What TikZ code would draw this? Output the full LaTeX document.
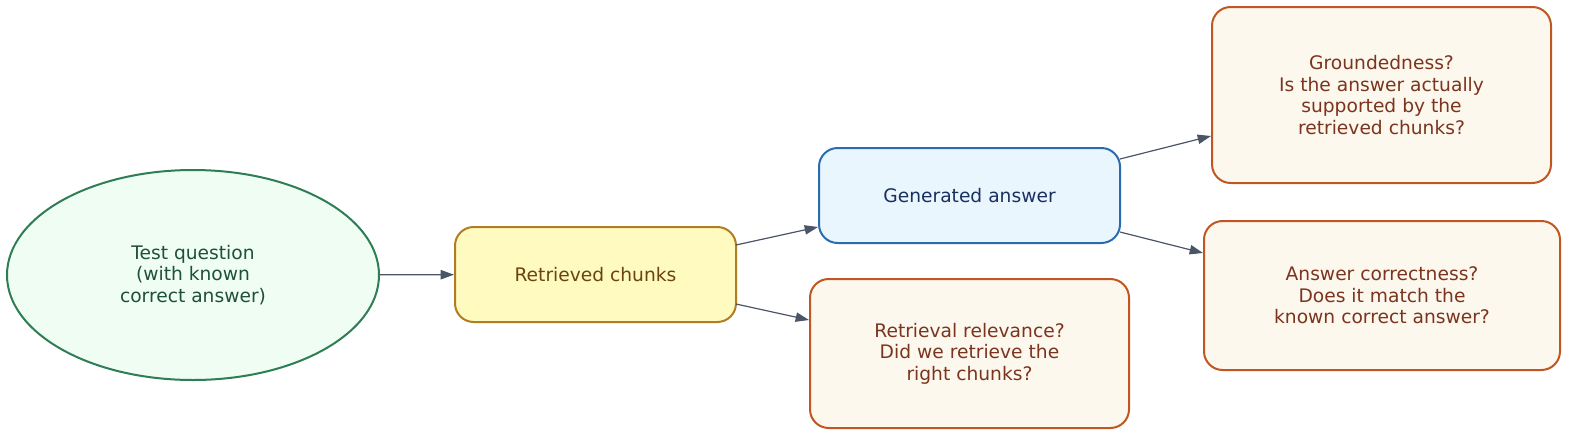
\documentclass[tikz,border=0pt]{standalone}
\usepackage{fontspec}
\setmainfont{DejaVu Sans}
\usetikzlibrary{shapes.geometric,arrows.meta}
\definecolor{gS}{HTML}{2E7D55}\definecolor{gF}{HTML}{EFFDF3}\definecolor{gT}{HTML}{1F5038}
\definecolor{yS}{HTML}{B07D20}\definecolor{yF}{HTML}{FEFAC0}\definecolor{yT}{HTML}{6B4410}
\definecolor{bS}{HTML}{2B6CB0}\definecolor{bF}{HTML}{EAF6FE}\definecolor{bT}{HTML}{1A3060}
\definecolor{oS}{HTML}{C05621}\definecolor{oF}{HTML}{FDF8EE}\definecolor{oT}{HTML}{7B341E}
\definecolor{eC}{HTML}{4A5568}
\tikzset{
 base/.style={line width=1.5pt,align=center,font=\fontsize{14}{16.2}\selectfont,inner sep=0pt},
 rbox/.style={base,rectangle,rounded corners=14pt},
 ybox/.style={rbox,draw=yS,fill=yF,text=yT},
 bbox/.style={rbox,draw=bS,fill=bF,text=bT},
 obox/.style={rbox,draw=oS,fill=oF,text=oT},
 edge/.style={draw=eC,line width=0.9pt,-{Triangle[length=10pt,width=7pt]}}
}
\begin{document}
\begin{tikzpicture}[x=0.75pt,y=-0.75pt]
\useasboundingbox (0,0) rectangle (1569,436);
\node[base,ellipse,draw=gS,fill=gF,text=gT,minimum width=372*0.75pt,minimum height=210*0.75pt] (q) at (193,275) {Test question\\(with known\\correct answer)};
\node[ybox,minimum width=281*0.75pt,minimum height=95*0.75pt] (c) at (595.5,274.5) {Retrieved chunks};
\node[bbox,minimum width=301*0.75pt,minimum height=95*0.75pt] (a) at (969.5,195.5) {Generated answer};
\node[obox,minimum width=339*0.75pt,minimum height=176*0.75pt] (g) at (1381.5,95) {Groundedness?\\Is the answer actually\\supported by the\\retrieved chunks?};
\node[obox,minimum width=356*0.75pt,minimum height=149*0.75pt] (k) at (1382,295.5) {Answer correctness?\\Does it match the\\known correct answer?};
\node[obox,minimum width=319*0.75pt,minimum height=149*0.75pt] (r) at (969.5,353.5) {Retrieval relevance?\\Did we retrieve the\\right chunks?};
\coordinate (c1) at (736,245); \coordinate (c2) at (736,304);
\coordinate (a1) at (1120,159); \coordinate (a2) at (1120,232);
\draw[edge] (q) -- (c);
\draw[edge] (c1) -- (a.west |- 0,227);
\draw[edge] (c2) -- (r.west |- 0,320);
\draw[edge] (a1) -- (g.west |- 0,136);
\draw[edge] (a2) -- (k.west |- 0,253);
\end{tikzpicture}
\end{document}
